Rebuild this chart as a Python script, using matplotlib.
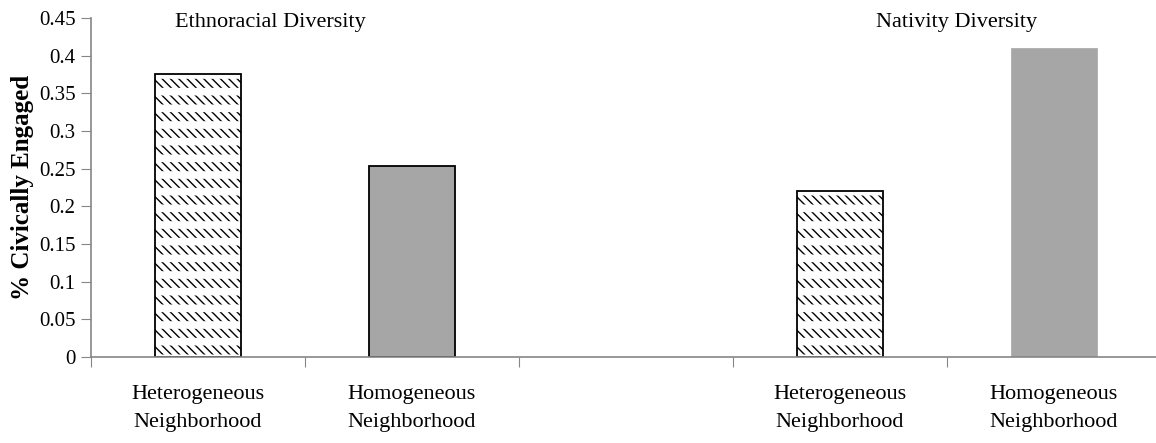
import matplotlib.pyplot as plt
import numpy as np

# Share of residents civically engaged, by neighborhood type
categories = ["Heterogeneous\nNeighborhood", "Homogeneous\nNeighborhood", "",
              "Heterogeneous\nNeighborhood", "Homogeneous\nNeighborhood"]
ethnoracial = [0.376, 0.253]
nativity = [0.221, 0.41]
group_titles = ["Ethnoracial Diversity", "Nativity Diversity"]
y_ticks = [0, 0.05, 0.1, 0.15, 0.2, 0.25, 0.3, 0.35, 0.4, 0.45]
y_tick_labels = ["0", "0.05", "0.1", "0.15", "0.2", "0.25", "0.3", "0.35", "0.4", "0.45"]

plt.rcParams['font.family'] = ['Liberation Serif', 'DejaVu Serif']

fig = plt.figure(figsize=(11.56, 4.43), dpi=100)
ax = fig.add_axes([91 / 1156, 86 / 443, 1070 / 1156, 339 / 443])

x = np.arange(len(categories))
w = 0.4


def dashed_hatch_bar(pos, val):
    # diagonal strokes broken into rows: black hatch, then white horizontal stripes over it
    with plt.rc_context({'hatch.linewidth': 1.0}):
        b = ax.bar(pos, val, w, color='white', edgecolor='black', hatch='\\\\\\\\', linewidth=0)
    with plt.rc_context({'hatch.linewidth': 5.5}):
        s = ax.bar(pos, val, w, color='none', edgecolor='white', hatch='-', linewidth=0)
    for p in b.patches:
        if hasattr(p, 'set_hatch_linewidth'):
            p.set_hatch_linewidth(1.0)
    for p in s.patches:
        if hasattr(p, 'set_hatch_linewidth'):
            p.set_hatch_linewidth(5.5)
    ax.bar(pos, val, w, fill=False, edgecolor='black', linewidth=1.3)


dashed_hatch_bar(x[0], ethnoracial[0])
ax.bar(x[1], ethnoracial[1], w, color='#a6a6a6', edgecolor='black', linewidth=1.3)
dashed_hatch_bar(x[3], nativity[0])
ax.bar(x[4], nativity[1], w, color='#a6a6a6', edgecolor='#a6a6a6', linewidth=0.5)

ax.set_xlim(-0.5, 4.5)
ax.set_ylim(0, 0.45)
ax.set_yticks(y_ticks)
ax.set_yticklabels(y_tick_labels, fontsize=15)

# category labels centred in each slot, ticks on the slot boundaries
ax.set_xticks(np.arange(-0.5, 5.0, 1.0))
ax.set_xticklabels([])
ax.set_xticks(x, minor=True)
ax.set_xticklabels(categories, minor=True, fontsize=16, linespacing=1.65)
ax.tick_params(axis='x', which='minor', length=0, pad=20)
ax.tick_params(axis='x', which='major', length=7, color='#868686', direction='out')
ax.tick_params(axis='y', length=7, color='#868686', direction='out', pad=4)

for side in ['top', 'right']:
    ax.spines[side].set_visible(False)
for side in ['left', 'bottom']:
    ax.spines[side].set_color('#868686')
    ax.spines[side].set_linewidth(1.2)

ax.set_ylabel("% Civically Engaged", fontsize=18, fontweight='bold', labelpad=4)

ax.text(0.336, 0.444, group_titles[0], fontsize=16, ha='center', va='center')
ax.text(3.547, 0.444, group_titles[1], fontsize=16, ha='center', va='center')

fig.savefig("out.png", dpi=100)
